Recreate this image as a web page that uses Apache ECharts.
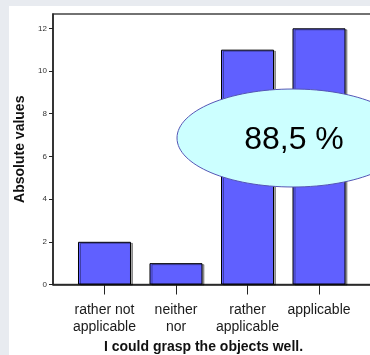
<!DOCTYPE html>
<html>
<head>
<meta charset="utf-8">
<script src="https://cdn.jsdelivr.net/npm/echarts@6/dist/echarts.min.js"></script>
<style>
  html, body { margin: 0; padding: 0; width: 370px; height: 355px; background: #e8ebf0; overflow: hidden; }
  #chart { position: absolute; left: 9px; top: 6px; width: 361px; height: 349px; background: #ffffff; }
</style>
</head>
<body>
<div id="chart"></div>
<script>
const categories = ['rather not\napplicable', 'neither\nnor', 'rather\napplicable', 'applicable'];
const counts = [2, 1, 11, 12];
const yTickValues = [0, 2, 4, 6, 8, 10, 12];
const yAxisTitle = 'Absolute values';
const xAxisTitle = 'I could grasp the objects well.';
const annotationText = '88,5 %';

const chart = echarts.init(document.getElementById('chart'), null, { renderer: 'canvas' });
const fontFamily = '"Liberation Sans", Arial, sans-serif';

chart.setOption({
  animation: false,
  grid: {
    left: 44, top: 8, right: -2, bottom: 70.5,
    outerBoundsMode: 'none', containLabel: false,
    show: true, borderColor: '#444', borderWidth: 1.5, backgroundColor: 'transparent'
  },
  xAxis: {
    type: 'value',
    min: -0.72, max: 3.741,
    splitLine: { show: false },
    axisLine: { show: true, onZero: false, lineStyle: { color: '#222', width: 1.5 } },
    axisTick: { show: true, length: 10, customValues: categories.map((c, i) => i), lineStyle: { color: '#222', width: 1 } },
    axisLabel: {
      customValues: categories.map((c, i) => i),
      formatter: v => categories[Math.round(v)] || '',
      fontFamily, fontSize: 14, color: '#1a1a1a', lineHeight: 17, margin: 17
    },
    name: xAxisTitle,
    nameLocation: 'middle',
    nameGap: 54,
    nameTextStyle: { fontFamily, fontSize: 14, fontWeight: 'bold', color: '#111', padding: [0, 18, 0, 0] }
  },
  yAxis: {
    type: 'value',
    min: 0, max: 12.67,
    splitLine: { show: false },
    axisLine: { show: true, onZero: false, lineStyle: { color: '#222', width: 1.5 } },
    axisTick: { show: true, length: 4, customValues: yTickValues, lineStyle: { color: '#222', width: 1 } },
    axisLabel: { customValues: yTickValues, fontFamily, fontSize: 8, color: '#333', margin: 6 },
    name: yAxisTitle,
    nameLocation: 'middle',
    nameGap: 20,
    nameTextStyle: { fontFamily, fontSize: 14, fontWeight: 'bold', color: '#111' }
  },
  series: [{
    type: 'bar',
    data: counts.map((v, i) => [i, v]),
    barWidth: 53,
    itemStyle: {
      color: '#6060ff', borderColor: '#000', borderWidth: 1,
      shadowColor: 'rgba(0,0,0,0.35)', shadowOffsetX: 2, shadowOffsetY: 1, shadowBlur: 0
    }
  }],
  graphic: [{
    type: 'ellipse',
    z: 100,
    shape: { cx: 284, cy: 132, rx: 116, ry: 49 },
    style: { fill: '#ccffff', stroke: '#5555b5', lineWidth: 1 }
  }, {
    type: 'text',
    z: 101,
    x: 285, y: 134,
    style: { text: annotationText, font: '32px "Liberation Sans", Arial, sans-serif', fill: '#000', align: 'center', verticalAlign: 'middle' }
  }]
});
</script>
</body>
</html>
